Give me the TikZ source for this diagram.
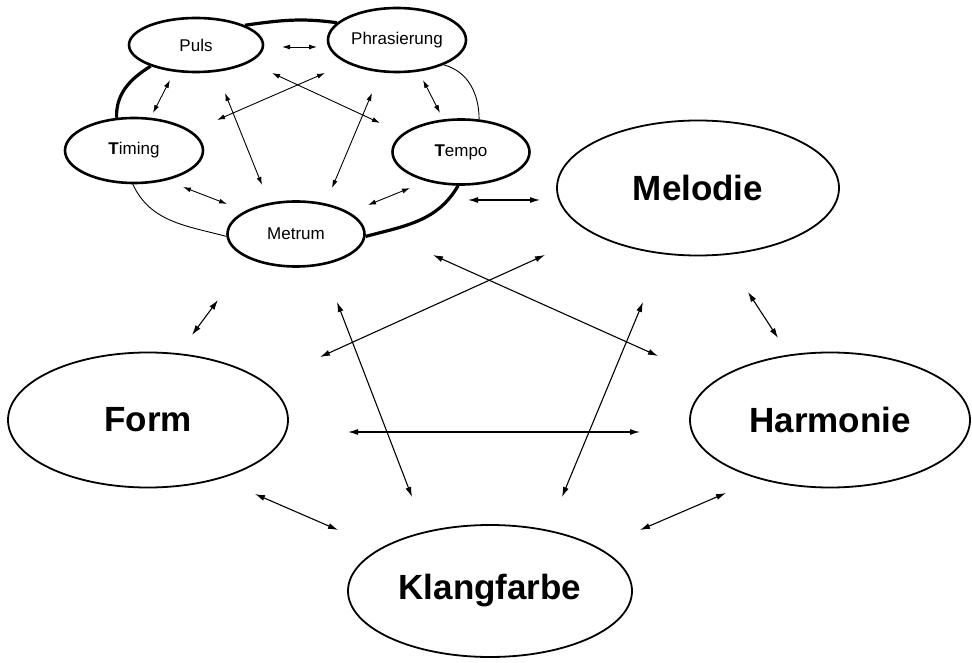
\documentclass[tikz,border=0pt]{standalone}
\usepackage{fontspec}
\setmainfont{Liberation Sans}
\usetikzlibrary{shapes.geometric,arrows.meta}
\tikzset{
  small/.style={ellipse,draw,line width=2.6pt,inner sep=0pt,font=\fontsize{17}{19}\selectfont},
  big/.style={ellipse,draw,line width=1.8pt,inner sep=0pt,minimum width=280pt,minimum height=135pt,font=\fontsize{35}{40}\selectfont\bfseries},
  dbl/.style={line width=1.1pt,{Latex[length=10pt,width=6pt]}-{Latex[length=10pt,width=6pt]}},
  sdbl/.style={line width=0.9pt,{Latex[length=8pt,width=5pt]}-{Latex[length=8pt,width=5pt]}},
  thickarc/.style={line width=3.2pt},
  thinarc/.style={line width=0.9pt}
}
\begin{document}
\begin{tikzpicture}[x=1pt,y=1pt]
\useasboundingbox (0,0) rectangle (972,662);
% small ellipses
\node[small,minimum width=134pt,minimum height=54pt] (puls) at (196,617) {Puls};
\node[small,minimum width=138pt,minimum height=64pt] (phras) at (397,622) {Phrasierung};
\node[small,minimum width=138pt,minimum height=65pt] (timing) at (134,511.5) {{\bfseries T}iming};
\node[small,minimum width=137pt,minimum height=65pt] (tempo) at (461,510) {{\bfseries T}empo};
\node[small,minimum width=137pt,minimum height=65pt] (metrum) at (296,428) {Metrum};
% big ellipses
\node[big,minimum width=282pt] (melodie) at (698,474) {Melodie};
\node[big] (form) at (148,242) {Form};
\node[big] (harmonie) at (830,242) {Harmonie};
\node[big,minimum width=284pt,minimum height=132pt] (klang) at (490,71) {Klangfarbe};
% ring arcs
\draw[thickarc] (puls.22) to[out=8,in=172] (phras.164);
\draw[thickarc] (puls.205) to[out=212,in=92] (timing.118);
\draw[thinarc] (phras.332) to[out=-15,in=90] (tempo.61);
\draw[thinarc] (timing.268) to[out=-65,in=165] (metrum.182);
\draw[thickarc] (metrum.358) to[out=15,in=240] (tempo.265);
% arrow end points
\coordinate (a1) at (282,615); \coordinate (b1) at (317,615);
\coordinate (a2) at (170,582); \coordinate (b2) at (153,549);
\coordinate (a3) at (423,582); \coordinate (b3) at (440,549);
\coordinate (a4) at (272,589); \coordinate (b4) at (380,539);
\coordinate (a5) at (325,589); \coordinate (b5) at (217,542);
\coordinate (a6) at (225,569); \coordinate (b6) at (262,477);
\coordinate (a7) at (372,569); \coordinate (b7) at (332,474);
\coordinate (a8) at (183,475); \coordinate (b8) at (227,458);
\coordinate (a9) at (410,474); \coordinate (b9) at (368,457);
\coordinate (a10) at (468,462); \coordinate (b10) at (540,462);
\coordinate (a11) at (433,407); \coordinate (b11) at (658,306);
\coordinate (a12) at (545,407); \coordinate (b12) at (320,305);
\coordinate (a13) at (218,362); \coordinate (b13) at (192,327);
\coordinate (a14) at (748,370); \coordinate (b14) at (778,324);
\coordinate (a15) at (348,230); \coordinate (b15) at (640,230);
\coordinate (a16) at (255,168); \coordinate (b16) at (338,132);
\coordinate (a17) at (726,169); \coordinate (b17) at (640,132);
\coordinate (a18) at (337,360); \coordinate (b18) at (412,165);
\coordinate (a19) at (643,360); \coordinate (b19) at (562,165);
% small arrows
\foreach \i in {1,...,9} {\draw[sdbl] (a\i) -- (b\i);}
% big arrows
\foreach \i in {10,...,19} {\draw[dbl] (a\i) -- (b\i);}
\end{tikzpicture}
\end{document}
